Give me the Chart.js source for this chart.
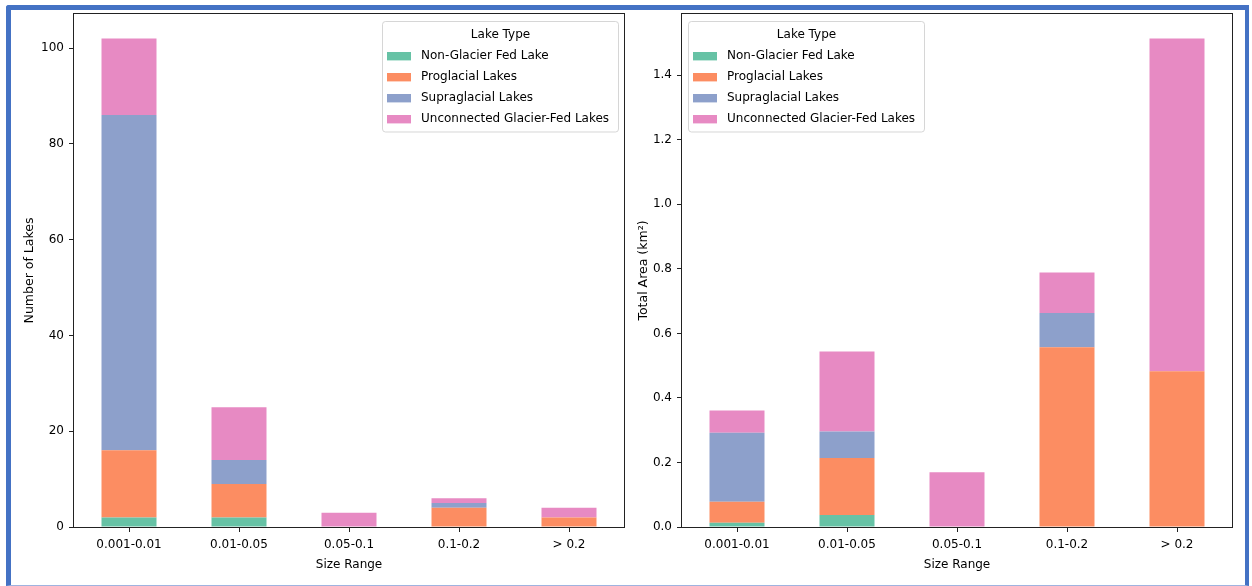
<!DOCTYPE html>
<html>
<head>
<meta charset="utf-8">
<script src="https://cdn.jsdelivr.net/npm/chart.js@4.4.1/dist/chart.umd.min.js"></script>
<style>
  html, body { margin: 0; padding: 0; background: #fff; }
  #page { position: relative; width: 1252px; height: 586px; overflow: hidden; background: #fff; }
  #page canvas { position: absolute; top: 0; }
  #frame {
    position: absolute; left: 6px; top: 5px; width: 1243px; height: 581px;
    box-sizing: border-box; pointer-events: none;
    border-top: 5px solid #4472c4; border-left: 5px solid #4472c4;
    border-right: 4px solid #4472c4; border-bottom: 1px solid #9fb3df;
    border-top-left-radius: 3px;
  }
</style>
</head>
<body>
<div id="page">
  <canvas id="countChart" width="626" height="586" style="left:0"></canvas>
  <canvas id="areaChart" width="626" height="586" style="left:626px"></canvas>
  <div id="frame"></div>
</div>
<script>
// Size classes (km²) and lake types
const sizeRanges = ['0.001-0.01', '0.01-0.05', '0.05-0.1', '0.1-0.2', '> 0.2'];
const lakeTypes = ['Non-Glacier Fed Lake', 'Proglacial Lakes', 'Supraglacial Lakes', 'Unconnected Glacier-Fed Lakes'];
const lakeColors = ['#66c2a5', '#fc8d62', '#8da0cb', '#e78ac3'];

// Number of lakes in each size class
const countNonGlacier   = [2, 2, 0, 0, 0];
const countProglacial   = [14, 7, 0, 4, 2];
const countSupraglacial = [70, 5, 0, 1, 0];
const countUnconnected  = [16, 11, 3, 1, 2];

// Total lake area (km²) in each size class
const areaNonGlacier   = [0.013, 0.037, 0, 0, 0];
const areaProglacial   = [0.065, 0.177, 0, 0.557, 0.483];
const areaSupraglacial = [0.214, 0.082, 0, 0.106, 0];
const areaUnconnected  = [0.069, 0.248, 0.170, 0.126, 1.031];

// Tick spacing for the value axes
const countTickStep = 20;
const areaTickStep = 0.2;

const FONT = '"DejaVu Sans", "Liberation Sans", sans-serif';
const INK = '#000';
Chart.defaults.font.family = FONT;
Chart.defaults.font.size = 12;
Chart.defaults.color = INK;

// Closed frame around the plot area (all four spines)
const spines = {
  id: 'spines',
  afterDatasetsDraw(chart) {
    const { ctx, chartArea: a } = chart;
    ctx.save();
    ctx.strokeStyle = '#222';
    ctx.lineWidth = 1;
    ctx.strokeRect(a.left - 0.5, a.top - 0.5, a.right - a.left + 1, a.bottom - a.top + 1);
    ctx.restore();
  }
};

// Boxed legend with a title, placed inside the plot area
const insetLegend = {
  id: 'insetLegend',
  afterDraw(chart, args, opts) {
    const { ctx, chartArea: a } = chart;
    const sets = chart.data.datasets;
    ctx.save();
    ctx.font = '12px ' + FONT;
    let maxW = 0;
    sets.forEach(d => { maxW = Math.max(maxW, ctx.measureText(d.label).width); });
    const w = Math.round(38.5 + maxW + 9);
    const h = 110.5;
    const x = opts.side === 'left' ? Math.round(a.left + 6) + 0.5 : Math.round(a.right - 6 - w) + 0.5;
    const y = Math.round(a.top + 7) + 0.5;
    const r = 3;
    ctx.beginPath();
    ctx.moveTo(x + r, y);
    ctx.lineTo(x + w - r, y); ctx.quadraticCurveTo(x + w, y, x + w, y + r);
    ctx.lineTo(x + w, y + h - r); ctx.quadraticCurveTo(x + w, y + h, x + w - r, y + h);
    ctx.lineTo(x + r, y + h); ctx.quadraticCurveTo(x, y + h, x, y + h - r);
    ctx.lineTo(x, y + r); ctx.quadraticCurveTo(x, y, x + r, y);
    ctx.closePath();
    ctx.fillStyle = 'rgba(255,255,255,0.8)';
    ctx.fill();
    ctx.strokeStyle = 'rgba(204,204,204,0.8)';
    ctx.lineWidth = 1;
    ctx.stroke();

    ctx.fillStyle = INK;
    ctx.textBaseline = 'middle';
    ctx.textAlign = 'center';
    ctx.fillText(opts.title, x + w / 2, y + 13);
    ctx.textAlign = 'left';
    sets.forEach((d, i) => {
      const cy = y + 34.5 + i * 21;
      ctx.fillStyle = d.backgroundColor;
      ctx.fillRect(x + 4.5, cy - 4, 24, 8.4);
      ctx.fillStyle = INK;
      ctx.fillText(d.label, x + 38.5, cy);
    });
    ctx.restore();
  }
};

function buildChart(canvasId, series, cfg) {
  const datasets = series.map((values, i) => ({
    label: lakeTypes[i],
    data: values,
    backgroundColor: lakeColors[i],
    borderWidth: 0,
    barPercentage: 0.5,
    categoryPercentage: 1.0
  }));
  const totals = sizeRanges.map((_, j) => series.reduce((s, v) => s + v[j], 0));
  const top = Math.max(...totals) * 1.05;

  return new Chart(document.getElementById(canvasId), {
    type: 'bar',
    data: { labels: sizeRanges, datasets },
    plugins: [spines, insetLegend],
    options: {
      responsive: false,
      devicePixelRatio: 1,
      animation: false,
      layout: { padding: { top: 14, right: cfg.padRight, left: 0, bottom: 0 } },
      plugins: {
        legend: { display: false },
        tooltip: { enabled: false },
        insetLegend: { title: 'Lake Type', side: cfg.legendSide }
      },
      scales: {
        x: {
          stacked: true,
          offset: true,
          border: { display: false },
          grid: { offset: false, drawOnChartArea: false, drawTicks: true, tickLength: 5, color: '#222', lineWidth: 1 },
          ticks: { padding: 6, color: INK, maxRotation: 0, autoSkip: false, font: { size: 12 } },
          title: { display: true, text: 'Size Range', color: INK, font: { size: 12 }, padding: { top: 0, bottom: 14 } },
          afterFit(scale) { scale.height = 59; }
        },
        y: {
          stacked: true,
          min: 0,
          max: top,
          border: { display: false },
          grid: { drawOnChartArea: false, drawTicks: true, tickLength: 5, color: '#222', lineWidth: 1 },
          ticks: {
            stepSize: cfg.step,
            includeBounds: false,
            padding: 5,
            color: INK,
            font: { size: 12 },
            callback: cfg.format
          },
          title: { display: true, text: cfg.yTitle, color: INK, font: { size: 12.5 }, padding: { top: cfg.yTitlePad, bottom: 0 } },
          afterFit(scale) { scale.width = cfg.yWidth; }
        }
      }
    }
  });
}

buildChart('countChart',
  [countNonGlacier, countProglacial, countSupraglacial, countUnconnected],
  { yTitle: 'Number of Lakes', step: countTickStep, format: v => String(Math.round(v)),
    yWidth: 74, padRight: 2, yTitlePad: 22.5, legendSide: 'right' });

buildChart('areaChart',
  [areaNonGlacier, areaProglacial, areaSupraglacial, areaUnconnected],
  { yTitle: 'Total Area (km²)', step: areaTickStep, format: v => v.toFixed(1),
    yWidth: 56, padRight: 20, yTitlePad: 10, legendSide: 'left' });
</script>
</body>
</html>
